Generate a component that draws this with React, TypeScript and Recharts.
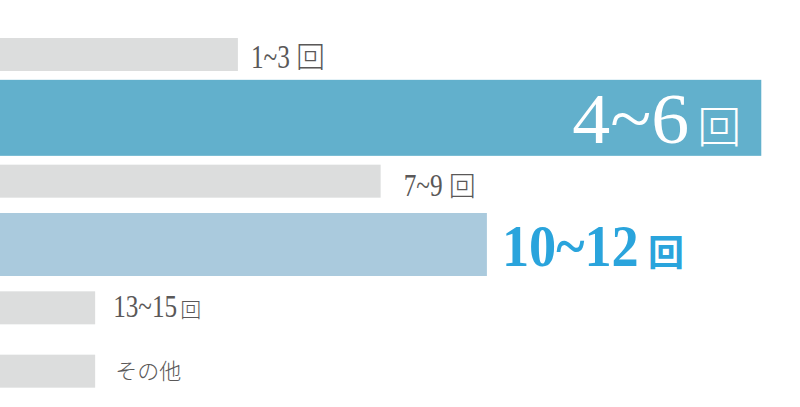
import { Bar, BarChart, LabelList, XAxis, YAxis } from "recharts";

// 来院回数の分布（％）
const categories = ["1~3回", "4~6回", "7~9回", "10~12回", "13~15回", "その他"];
const shares = [15, 48, 24, 30.7, 6, 6];

const data = categories.map((name, i) => ({ name, share: shares[i] }));

const GRAY_TEXT = "#5a5858";
const BLUE_TEXT = "#2aa4dc";
const SERIF = "'Liberation Serif', 'DejaVu Serif', serif";
const CJK = "'Noto Sans CJK JP', 'Noto Sans', sans-serif";

const TONES = {
  muted: { fill: "#dcdddd", thickness: 33 },
  primary: { fill: "#62b0cc", thickness: 76 },
  secondary: { fill: "#aacadd", thickness: 63 },
};

type RowStyle = {
  tone: keyof typeof TONES;
  inside?: boolean;
  gap: number;
  size: number;
  advance: number;
  unitSize: number;
  unitGap: number;
  dy: number;
  color: string;
  bold?: boolean;
};

const ROW_STYLE: Record<string, RowStyle> = {
  "1~3回": { tone: "muted", gap: 13, size: 34, advance: 13, unitSize: 29, unitGap: 6, dy: 13.5, color: GRAY_TEXT },
  "4~6回": { tone: "primary", inside: true, gap: 20, size: 72, advance: 39, unitSize: 44, unitGap: 8, dy: 25, color: "#ffffff" },
  "7~9回": { tone: "muted", gap: 23, size: 32, advance: 13, unitSize: 27, unitGap: 6, dy: 14.5, color: GRAY_TEXT },
  "10~12回": { tone: "secondary", gap: 15, size: 59, advance: 27.6, unitSize: 36, unitGap: 8, dy: 21.5, color: BLUE_TEXT, bold: true },
  "13~15回": { tone: "muted", gap: 18, size: 32, advance: 12.8, unitSize: 21, unitGap: 3, dy: 9.5, color: GRAY_TEXT },
  "その他": { tone: "muted", gap: 20, size: 22, advance: 0, unitSize: 0, unitGap: 0, dy: 7.5, color: GRAY_TEXT },
};

// natural advance of Liberation Serif glyphs, in em
function naturalWidth(text: string, size: number) {
  let em = 0;
  for (const ch of text) em += ch === "~" ? 0.541 : 0.5;
  return em * size;
}

function VariableBar(props: any) {
  const { x, y, width, height, payload } = props;
  const tone = TONES[ROW_STYLE[payload.name].tone];
  const center = y + height / 2;
  return (
    <rect
      x={x}
      y={center - tone.thickness / 2}
      width={width}
      height={tone.thickness}
      fill={tone.fill}
    />
  );
}

function RowLabel(props: any) {
  const box = props.viewBox ?? props;
  const { x, y, width, height } = box;
  const value = String(props.value);
  const style = ROW_STYLE[value];
  if (!style) return null;

  const baseline = y + height / 2 + style.dy;
  const hasUnit = value.endsWith("回");
  const digits = hasUnit ? value.slice(0, -1) : value;

  if (!hasUnit) {
    return (
      <text x={x + width + style.gap} y={baseline} fontSize={style.size} fontFamily={CJK} fontWeight={300} fill={style.color}>
        {value}
      </text>
    );
  }

  const digitsWidth = digits.length * style.advance;
  const squeeze = digitsWidth / naturalWidth(digits, style.size);
  const start = style.inside
    ? x + width - style.gap - style.unitSize - style.unitGap - digitsWidth
    : x + width + style.gap;

  return (
    <g>
      <g transform={`translate(${start}, ${baseline}) scale(${squeeze}, 1)`}>
        <text
          x={0}
          y={0}
          fontSize={style.size}
          fontFamily={SERIF}
          fontWeight={style.bold ? 700 : 400}
          fill={style.color}
        >
          {digits}
        </text>
      </g>
      <text
        x={start + digitsWidth + style.unitGap}
        y={baseline}
        fontSize={style.unitSize}
        fontFamily={CJK}
        fontWeight={style.bold ? 700 : 300}
        fill={style.color}
      >
        回
      </text>
    </g>
  );
}

export default function App() {
  return (
    <div style={{ width: 800, height: 407, background: "#ffffff" }}>
      <style>{"body{margin:0}"}</style>
      <BarChart
        width={800}
        height={407}
        data={data}
        layout="vertical"
        margin={{ top: 23, right: 7, bottom: 4, left: 0 }}
        barCategoryGap={0}
      >
        <XAxis type="number" dataKey="share" domain={[0, 50]} hide />
        <YAxis type="category" dataKey="name" hide />
        <Bar dataKey="share" isAnimationActive={false} shape={VariableBar}>
          <LabelList dataKey="name" content={RowLabel} />
        </Bar>
      </BarChart>
    </div>
  );
}
